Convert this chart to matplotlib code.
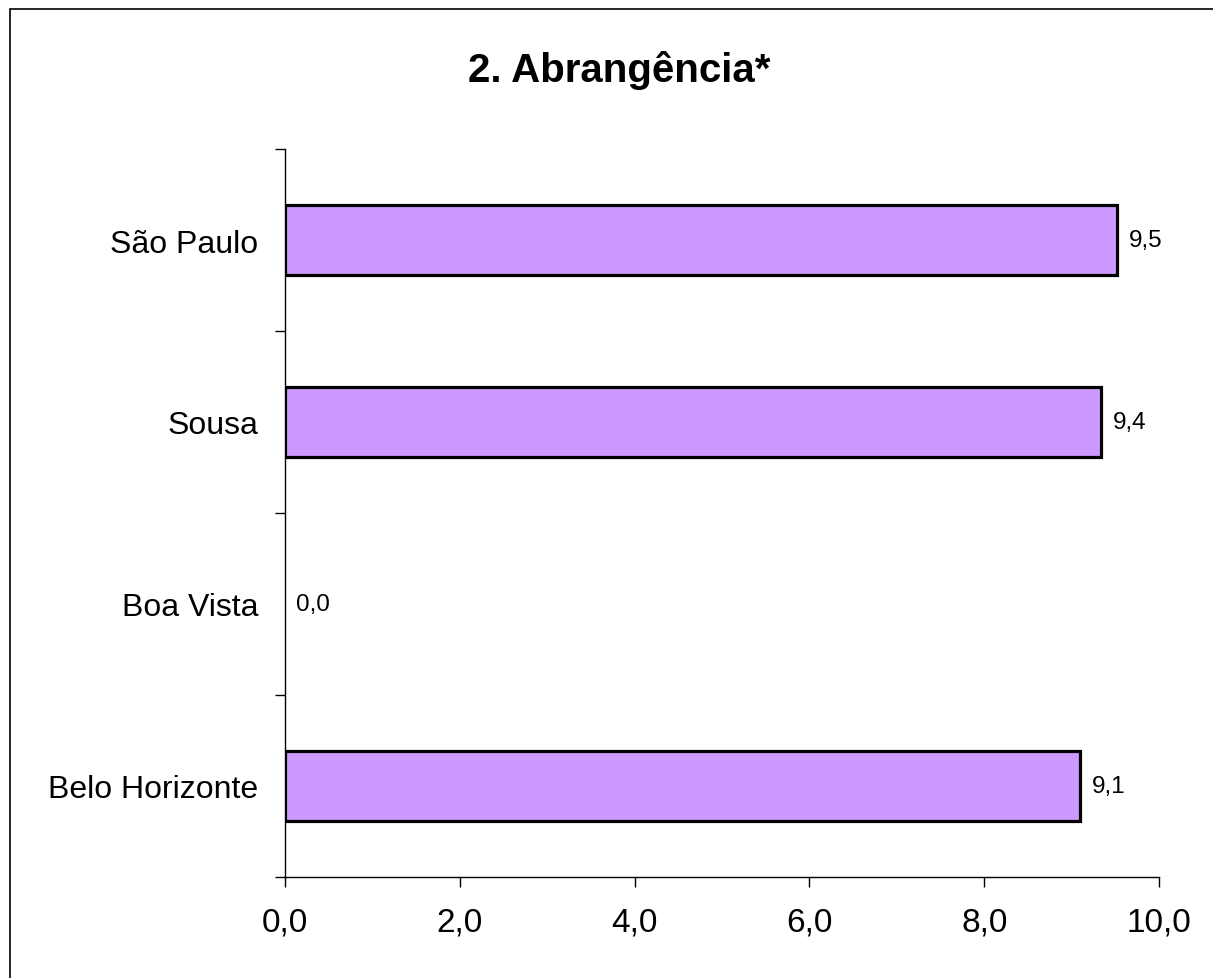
import numpy as np
import matplotlib.pyplot as plt
from matplotlib.patches import Rectangle

plt.rcParams['font.family'] = ['Liberation Sans', 'DejaVu Sans']

# Data (top to bottom as shown)
categories = ["São Paulo", "Sousa", "Boa Vista", "Belo Horizonte"]
values = [9.52, 9.34, 0.0, 9.10]
value_labels = ["9,5", "9,4", "0,0", "9,1"]
x_ticks = [0, 2, 4, 6, 8, 10]
x_tick_labels = ["0,0", "2,0", "4,0", "6,0", "8,0", "10,0"]

W, H = 1213, 979
fig = plt.figure(figsize=(W / 100, H / 100), dpi=100)

# outer border (only top and left visible in the original)
fig.patches.append(Rectangle((10 / W, -0.1), 1.2, 1 - 10 / H + 0.1,
                             transform=fig.transFigure, fill=False,
                             edgecolor='black', linewidth=1.2, zorder=0))

ax = fig.add_axes([285 / W, 1 - 878 / H, (1159 - 285) / W, (878 - 150) / H])

n = len(categories)
ypos = np.arange(n)[::-1]
# no outline for empty bars
lws = [2.3 if v > 0 else 0 for v in values]
ax.barh(ypos, values, height=0.39, color='#CC99FF', edgecolor='black', linewidth=lws, zorder=3)

for y, v, lab in zip(ypos, values, value_labels):
    ax.text(v + 0.13, y, lab, va='center', ha='left', fontsize=17.5)

ax.set_xlim(0, 10)
ax.set_ylim(-0.5, n - 0.5)
ax.set_xticks(x_ticks)
ax.set_xticklabels(x_tick_labels, fontsize=24)
ax.set_yticks(ypos)
ax.set_yticklabels(categories, fontsize=23)
ax.set_yticks(np.arange(-0.5, n, 1.0), minor=True)
ax.tick_params(axis='y', which='major', length=0, pad=19)
ax.tick_params(axis='y', which='minor', length=7, width=1, direction='out')
ax.tick_params(axis='x', length=7, width=1, direction='out', pad=14)

for s in ['top', 'right']:
    ax.spines[s].set_visible(False)
for s in ['left', 'bottom']:
    ax.spines[s].set_linewidth(1)

fig.text(619 / W, 1 - 70 / H, "2. Abrangência*", ha='center', va='center',
         fontsize=29, fontweight='bold')

fig.savefig("out.png", dpi=100)
